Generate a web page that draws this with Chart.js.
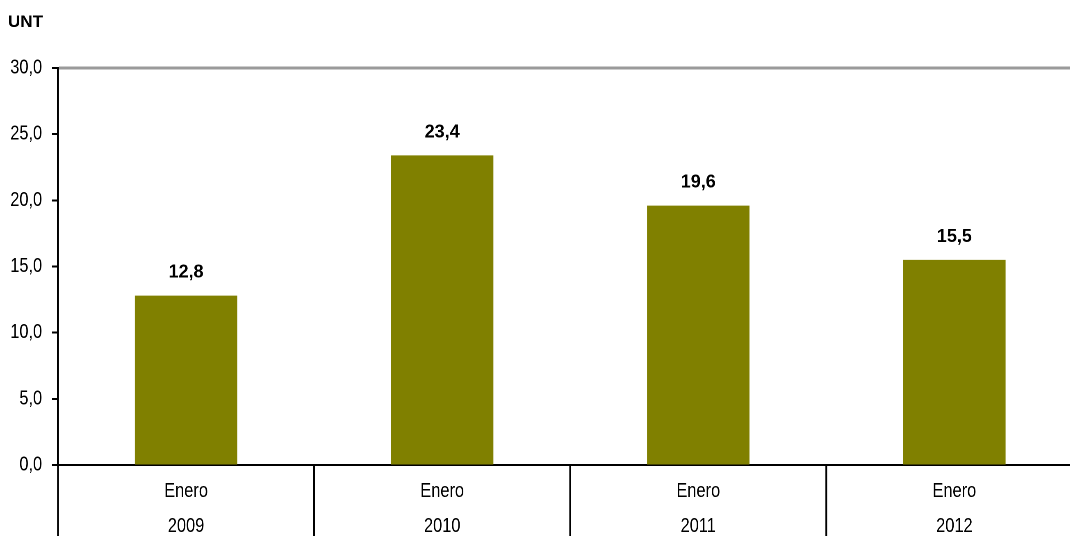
<!DOCTYPE html>
<html>
<head>
<meta charset="utf-8">
<script src="https://cdn.jsdelivr.net/npm/chart.js@4"></script>
<style>
  html, body { margin: 0; padding: 0; background: #fff; overflow: hidden; }
  #clip { width: 1070px; height: 536px; overflow: hidden; position: relative; }
  /* the chart is drawn wide and squeezed, giving narrow (Arial Narrow-like) axis text */
  #wrap { width: 1320px; height: 536px; transform: scaleX(0.82); transform-origin: 0 0; }
</style>
</head>
<body>
<div id="clip"><div id="wrap"><canvas id="chart" width="1320" height="536"></canvas></div></div>
<script>
const months = ['Enero', 'Enero', 'Enero', 'Enero']
const years = ['2009', '2010', '2011', '2012']
const values = [12.8, 23.4, 19.6, 15.5]
const unitLabel = 'UNT'

const K = 0.82
const FONT = '"Liberation Sans", Arial, sans-serif'
const fmt = v => v.toFixed(1).replace('.', ',')

// draw text undoing the horizontal squeeze
function plainText(ctx, text, x, y) {
  ctx.save()
  ctx.translate(x, y)
  ctx.scale(1 / K, 1)
  ctx.fillText(text, 0, 0)
  ctx.restore()
}

const extras = {
  id: 'extras',
  afterDatasetsDraw(chart) {
    const ctx = chart.ctx
    const meta = chart.getDatasetMeta(0)
    ctx.save()
    ctx.fillStyle = '#000'
    ctx.textAlign = 'center'
    ctx.textBaseline = 'alphabetic'
    ctx.font = 'bold 18px ' + FONT
    meta.data.forEach((bar, i) => {
      plainText(ctx, fmt(values[i]), bar.x, bar.y - 18)
    })
    ctx.textAlign = 'left'
    ctx.font = 'bold 17px ' + FONT
    plainText(ctx, unitLabel, 8 / K, 27)
    ctx.restore()
  },
  afterDraw(chart) {
    // category separators below the axis
    const ctx = chart.ctx
    const x = chart.scales.x
    const bottom = chart.chartArea.bottom
    const step = x.getPixelForValue(1) - x.getPixelForValue(0)
    ctx.save()
    ctx.strokeStyle = '#000'
    ctx.lineWidth = 2.2
    for (let i = 0; i <= years.length; i++) {
      const px = x.getPixelForValue(0) - step / 2 + i * step
      ctx.beginPath()
      ctx.moveTo(px, bottom)
      ctx.lineTo(px, chart.height)
      ctx.stroke()
    }
    ctx.restore()
  }
}

const labels = months.map((m, i) => [m, years[i]])

new Chart(document.getElementById('chart'), {
  type: 'bar',
  data: {
    labels: labels,
    datasets: [{
      data: values,
      backgroundColor: '#808000',
      borderWidth: 0,
      categoryPercentage: 1,
      barPercentage: 0.40
    }]
  },
  options: {
    responsive: false,
    devicePixelRatio: 2,
    animation: false,
    layout: { padding: { top: 68, left: 0, right: 0, bottom: 0 } },
    plugins: {
      legend: { display: false },
      tooltip: { enabled: false }
    },
    scales: {
      x: {
        grid: { display: false, drawTicks: false },
        border: { color: '#000', width: 2 },
        ticks: {
          color: '#000',
          padding: 9,
          font: { family: FONT, size: 20, lineHeight: 1.75 }
        },
        afterFit: scale => { scale.height = 71 }
      },
      y: {
        min: 0,
        max: 30,
        ticks: {
          stepSize: 5,
          color: '#000',
          padding: 12,
          font: { family: FONT, size: 20 },
          callback: v => fmt(v)
        },
        grid: {
          tickLength: 7.3,
          tickWidth: 2,
          tickColor: '#000',
          color: c => (c.tick && c.tick.value === 30) ? '#9a9a9a' : 'rgba(0,0,0,0)',
          lineWidth: c => (c.tick && c.tick.value === 30) ? 3 : 1
        },
        border: { color: '#000', width: 2.4 },
        afterFit: scale => { scale.width = 58 / K }
      }
    }
  },
  plugins: [extras]
})
</script>
</body>
</html>
